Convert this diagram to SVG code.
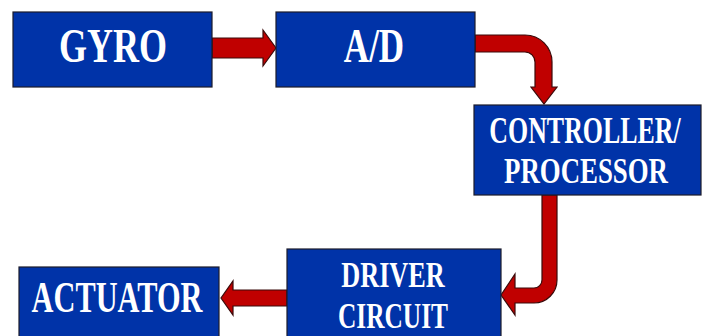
<svg xmlns="http://www.w3.org/2000/svg" width="704" height="336" viewBox="0 0 704 336">
<style>
.box{fill:#0033A8;stroke:#1b1b2a;stroke-width:1.2}
.lbl{fill:#ffffff;font-family:"Liberation Serif","Times New Roman",serif;font-weight:bold;text-anchor:middle}
.arr{fill:#C00000;stroke:#3a0a0a;stroke-width:1.2;stroke-linejoin:miter}
</style>
<rect width="704" height="336" fill="#ffffff"/>
<g id="connectors">
<path class="arr" d="M212,38 H263 V30 L276,48 L263,66 V58 H212 Z"/>
<path class="arr" d="M475,35 H525 A27,27 0 0 1 552,62 V87 H557 L544,104 L531,87 H535 V62 A10,10 0 0 0 525,52 H475 Z"/>
<path class="arr" d="M542,195 H557 V280 A23,23 0 0 1 534,303 H515 V315 L501,295 L515,274 V288 H534 A8,8 0 0 0 542,280 Z"/>
<path class="arr" d="M287,290 H233 V281 L221,298 L233,315 V306 H287 Z"/>
</g>
<g id="gyro">
<rect class="box" x="13" y="12" width="199" height="75"/>
<text class="lbl" transform="translate(113,62) scale(0.75,1)" font-size="48">GYRO</text>
</g>
<g id="ad">
<rect class="box" x="276" y="12" width="199" height="75"/>
<text class="lbl" transform="translate(374,62) scale(0.73,1)" font-size="48">A/D</text>
</g>
<g id="controller">
<rect class="box" x="474" y="105" width="227" height="90"/>
<text class="lbl" transform="translate(585,143) scale(0.70,1)" font-size="37">CONTROLLER/</text>
<text class="lbl" transform="translate(586,183) scale(0.745,1)" font-size="36">PROCESSOR</text>
</g>
<g id="driver">
<rect class="box" x="287" y="249" width="214" height="92"/>
<text class="lbl" transform="translate(393,287) scale(0.75,1)" font-size="35">DRIVER</text>
<text class="lbl" transform="translate(393,328) scale(0.725,1)" font-size="35">CIRCUIT</text>
</g>
<g id="actuator">
<rect class="box" x="19" y="267" width="200" height="74"/>
<text class="lbl" transform="translate(117,312) scale(0.69,1)" font-size="44">ACTUATOR</text>
</g>
</svg>
